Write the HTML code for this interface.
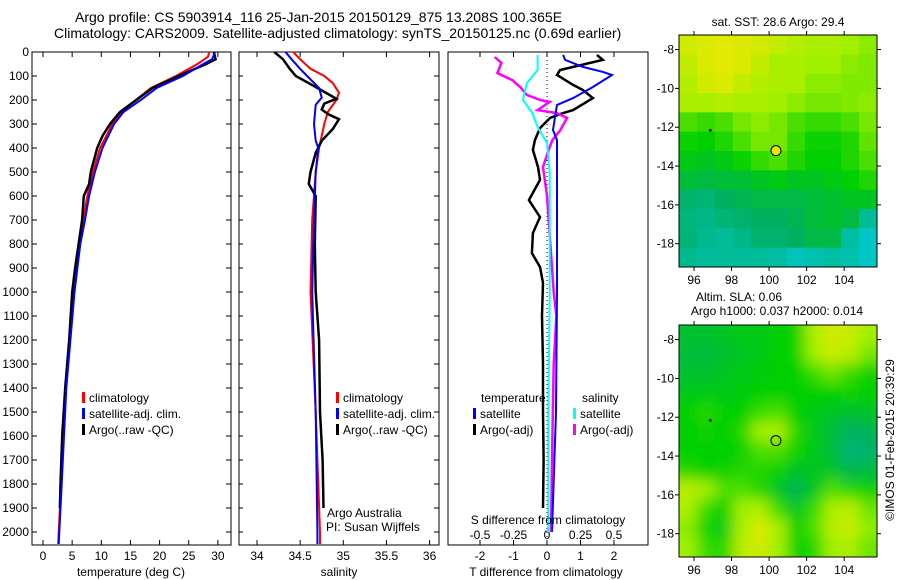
<!DOCTYPE html>
<html><head><meta charset="utf-8"><style>
body{margin:0;background:#fff;width:900px;height:580px;overflow:hidden}
svg{display:block;font-family:"Liberation Sans",sans-serif}
text{fill:#000}
</style></head><body>
<svg id="s" width="900" height="580">
<defs>
<filter id="blur" x="-5%" y="-5%" width="110%" height="110%"><feGaussianBlur stdDeviation="7"/></filter>
<clipPath id="clip2"><rect x="679" y="325" width="198" height="232"/></clipPath>
</defs>
<text x="75" y="22" font-size="14">Argo profile: CS 5903914_116 25-Jan-2015 20150129_875 13.208S 100.365E</text>
<text x="54" y="38" font-size="14">Climatology: CARS2009. Satellite-adjusted climatology: synTS_20150125.nc (0.69d earlier)</text>
</svg>
<script>
// ---- data ----
const depthTicks=[0,100,200,300,400,500,600,700,800,900,1000,1100,1200,1300,1400,1500,1600,1700,1800,1900,2000];
const tTicks=[0,5,10,15,20,25,30];
const sTicks=[34,34.5,35,35.5,36];
const tdTicks=[-2,-1,0,1,2];
const sdTicks=[-0.5,-0.25,0,0.25,0.5];
const climTdep=[0,20,50,100,150,200,250,300,400,500,600,700,800,900,1000,1200,1400,1600,1800,2000,2050];
const climT=[28.5,28.3,26.5,22.8,18.5,15.9,13.5,11.9,9.8,8.6,7.6,6.9,6.2,5.7,5.1,4.5,3.9,3.5,3.1,2.7,2.6];
const satTdep=[0,30,50,100,150,200,250,300,400,500,600,700,800,900,1000,1200,1400,1600,1800,2000,2050];
const satT=[29.5,29,27.5,24,19.5,16.8,13.8,12.2,10.2,8.9,7.9,7.2,6.4,5.9,5.4,4.7,4.0,3.6,3.2,2.8,2.7];
const argoTdep=[0,30,50,100,150,200,250,300,350,400,500,550,600,700,800,900,1000,1200,1400,1600,1800,1900];
const argoT=[29.3,29.6,28,23.2,18.8,16,13.2,11.5,10.2,9.3,8.2,7.9,7.0,6.7,6.1,5.5,5.0,4.5,3.8,3.3,3.0,2.9];
const climSdep=[0,30,70,100,130,170,200,250,300,400,500,700,1000,1500,2000,2050];
const climS=[34.42,34.5,34.62,34.78,34.88,34.95,34.92,34.82,34.78,34.72,34.68,34.64,34.62,34.68,34.73,34.73];
const satSdep=[0,30,70,100,150,190,220,300,370,400,500,700,1000,1500,2000,2050];
const satS=[34.33,34.4,34.5,34.58,34.72,34.75,34.68,34.66,34.68,34.71,34.68,34.66,34.64,34.68,34.7,34.7];
const argoSdep=[0,30,70,100,130,160,195,215,240,260,280,320,370,420,500,550,600,800,1000,1200,1500,1700,1900];
const argoS=[34.2,34.3,34.38,34.45,34.6,34.75,34.92,34.78,34.75,34.83,34.95,34.88,34.75,34.68,34.62,34.6,34.68,34.67,34.68,34.72,34.73,34.76,34.77];
const dTsatDep=[12,33,62,83,96,146,192,221,271,325,367,504,1000,1500,2000];
const dTsat=[0.48,0.54,1.07,1.67,1.94,1.37,0.78,0.3,0.24,0.18,0.3,0.3,0.3,0.27,0.15];
const dTargoDep=[12,33,75,96,137,158,192,242,254,275,317,367,408,479,533,617,688,754,838,896,962,1100,1300,1500,1700,1900];
const dTargo=[1.49,1.67,0.39,0.3,0.78,1.07,1.37,0.78,0.48,0.09,-0.21,-0.36,-0.42,-0.27,-0.21,-0.54,-0.21,-0.42,-0.45,-0.21,-0.12,-0.15,-0.12,-0.12,-0.1,-0.12];
const dSsatDep=[12,75,129,200,254,313,379,504,1000,1500,2000];
const dSsat=[-0.07,-0.07,-0.15,-0.18,-0.11,-0.07,0,0.02,0.02,0.01,0.01];
const dSargoDep=[21,46,88,117,146,179,200,208,242,254,275,325,367,396,479,600,1000,1100,1300,1600,2000];
const dSargo=[-0.39,-0.34,-0.37,-0.26,-0.2,-0.15,-0.05,0.02,-0.07,0.07,0.15,0.1,0.04,0.02,-0.03,0,0.05,0.07,0.05,0.04,0.03];
const lonTicks=[96,98,100,102,104];
const latTicks=[-8,-10,-12,-14,-16,-18];
const sstGrid=[
[.8,.82,.84,.82,.8,.77,.74,.72,.72,.7,.68],
[.77,.82,.84,.82,.77,.72,.72,.7,.7,.68,.67],
[.74,.8,.82,.77,.74,.72,.72,.68,.68,.67,.67],
[.72,.72,.74,.72,.72,.7,.68,.66,.66,.67,.68],
[.62,.6,.62,.66,.68,.66,.62,.6,.6,.62,.66],
[.56,.55,.58,.62,.66,.66,.6,.56,.56,.58,.64],
[.52,.5,.52,.56,.6,.62,.58,.55,.55,.58,.62],
[.46,.45,.46,.47,.5,.52,.5,.5,.52,.55,.58],
[.38,.36,.4,.42,.44,.44,.44,.46,.48,.5,.5],
[.35,.33,.36,.38,.4,.4,.42,.46,.48,.45,.3],
[.36,.32,.3,.33,.38,.38,.4,.44,.44,.28,.22],
[.32,.3,.3,.3,.3,.28,.24,.26,.28,.26,.22]];
const slaGrid=[
[.48,.48,.5,.52,.52,.55,.56,.72,.8,.78,.7],
[.46,.46,.48,.5,.52,.55,.56,.7,.78,.75,.66],
[.48,.48,.5,.52,.53,.55,.55,.6,.65,.6,.56],
[.52,.52,.52,.53,.55,.55,.55,.55,.55,.56,.55],
[.55,.58,.55,.55,.6,.62,.55,.52,.5,.48,.5],
[.55,.56,.55,.58,.7,.72,.58,.52,.46,.4,.42],
[.55,.55,.55,.56,.62,.62,.56,.52,.46,.35,.38],
[.58,.55,.56,.58,.58,.56,.5,.5,.5,.42,.45],
[.75,.7,.62,.62,.58,.5,.42,.5,.62,.58,.56],
[.72,.6,.55,.7,.72,.6,.5,.6,.72,.75,.65],
[.68,.56,.52,.72,.82,.72,.55,.62,.75,.78,.68],
[.7,.6,.58,.75,.8,.7,.55,.58,.7,.72,.65]];
const argoLon=100.365, argoLat=-13.208;

// ---- drawing ----
const NS='http://www.w3.org/2000/svg', S=document.getElementById('s');
function el(t,a,p){const e=document.createElementNS(NS,t);for(const k in a)e.setAttribute(k,a[k]);(p||S).appendChild(e);return e;}
function txt(x,y,s,a){const e=el('text',Object.assign({x:x,y:y,'font-size':12},a||{}));e.textContent=s;return e;}
const Y0=52,YB=545;
const yD=d=>Y0+d*0.24;
const xT=v=>43+v*5.83;
const xS=v=>257+(v-34)*86.3;
const xDT=v=>547+v*33.5;
const xDS=v=>547+v*134;
function line(deps,vals,xf,col,w,name,dash){
  const pts=deps.map((d,i)=>xf(vals[i]).toFixed(1)+','+yD(d).toFixed(1)).join(' ');
  const p=el('polyline',{points:pts,fill:'none',stroke:col,'stroke-width':w});
  if(dash)p.setAttribute('stroke-dasharray',dash);
  
  
}
function frame(x0,x1,name){
  const r=el('rect',{x:x0,y:Y0,width:x1-x0,height:YB-Y0,fill:'#fff',stroke:'#000','stroke-width':1});
  
  
}
function xticks(vals,xf,labelY,name){
  vals.forEach(v=>{const x=xf(v);
    el('line',{x1:x,x2:x,y1:YB,y2:YB-5,stroke:'#000'});el('line',{x1:x,x2:x,y1:Y0,y2:Y0+5,stroke:'#000'});
    const t=txt(x,labelY,String(v),{'text-anchor':'middle'});
    
    });
}
function legend(x,y,col,label){
  el('rect',{x:x,y:y-10,width:3,height:11,fill:col});
  const t=txt(x+7,y,label);
  
  
}
// panel 1
frame(32,231,'temperature-panel');
depthTicks.forEach(d=>{const y=yD(d);el('line',{x1:32,x2:37,y1:y,y2:y,stroke:'#000'});el('line',{x1:226,x2:231,y1:y,y2:y,stroke:'#000'});
  const t=txt(29,y+4,String(d),{'text-anchor':'end'});
  
  });
xticks(tTicks,xT,560,'temperature-tick-label');
line(climTdep,climT,xT,'#f00',2,'temperature-climatology');
line(argoTdep,argoT,xT,'#000',2.5,'temperature-argo');
line(satTdep,satT,xT,'#00f',2,'temperature-satellite');
legend(82,402,'#f00','climatology');legend(82,418,'#00f','satellite-adj. clim.');legend(82,434,'#000','Argo(..raw -QC)');
txt(131,576,'temperature (deg C)',{'text-anchor':'middle',});
// panel 2
frame(239,439,'salinity-panel');
depthTicks.forEach(d=>{const y=yD(d);el('line',{x1:239,x2:243,y1:y,y2:y,stroke:'#000'});el('line',{x1:434,x2:439,y1:y,y2:y,stroke:'#000'});});
xticks(sTicks,xS,560,'salinity-tick-label');
line(climSdep,climS,xS,'#f00',2,'salinity-climatology');
line(argoSdep,argoS,xS,'#000',2.5,'salinity-argo');
line(satSdep,satS,xS,'#00f',2,'salinity-satellite');
legend(336,402,'#f00','climatology');legend(336,418,'#00f','satellite-adj. clim.');legend(336,434,'#000','Argo(..raw -QC)');
txt(327,517,'Argo Australia');txt(326,531,'PI: Susan Wijffels');
txt(339,576,'salinity',{'text-anchor':'middle',});
// panel 3
frame(448,648,'difference-panel');
el('line',{x1:547,x2:547,y1:Y0,y2:YB,stroke:'#000','stroke-dasharray':'1,3'});
xticks(tdTicks,xDT,560,'t-diff-tick-label');
sdTicks.forEach(v=>{const t=txt(xDS(v),539,String(v),{'text-anchor':'middle'});
  
  });
line(dTargoDep,dTargo,xDT,'#000',2.5,'t-diff-argo');
line(dSargoDep,dSargo,xDS,'#f0f',2.5,'s-diff-argo');
line(dSsatDep,dSsat,xDS,'#0ff',2,'s-diff-satellite');
line(dTsatDep,dTsat,xDT,'#00f',2,'t-diff-satellite');
txt(481,402,'temperature');txt(582,402,'salinity');
legend(473,418,'#00f','satellite');legend(473,434,'#000','Argo(-adj)');
legend(573,418,'#0ff','satellite');legend(573,434,'#f0f','Argo(-adj)');
txt(548,524,'S difference from climatology',{'text-anchor':'middle'});
txt(546,576,'T difference from climatology',{'text-anchor':'middle',});
// maps
const stops=[[0,[0,144,255]],[0.2,[0,200,208]],[0.4,[0,176,96]],[0.55,[0,208,0]],[0.7,[160,240,0]],[0.85,[232,232,0]],[1,[240,192,0]]];
function cmap(v){for(let i=1;i<stops.length;i++){if(v<=stops[i][0]){const a=stops[i-1],b=stops[i],f=(v-a[0])/(b[0]-a[0]);
  return 'rgb('+a[1].map((c,k)=>Math.round(c+(b[1][k]-c)*f)).join(',')+')';}}return 'rgb(240,192,0)';}
function map(grid,top,name,isSst){
  const L=679,R=877,B=top+232,lonMin=95.2,lonMax=105.75,latTop=-7.25,latBot=-19.2;
  const xL=v=>L+(v-lonMin)/(lonMax-lonMin)*(R-L), yL=v=>top+(latTop-v)/(latTop-latBot)*(B-top);
  const rows=grid.length,cols=grid[0].length,cw=(R-L)/cols,ch=(B-top)/rows;
  let host=S;
  if(!isSst){host=el('g',{'clip-path':'url(#clip2)'});}
  const g=el('g',isSst?{}:{filter:'url(#blur)'},host);
  
  
  grid.forEach((r,i)=>r.forEach((v,j)=>{
    const x0=L+j*cw,y0=top+i*ch;
    let x=x0,y=y0,w=cw+0.5,h=ch+0.5;
    if(!isSst){if(j===0){x-=12;w+=12;}if(j===cols-1){w+=12;}if(i===0){y-=12;h+=12;}if(i===rows-1){h+=12;}}
    el('rect',{x:x,y:y,width:w,height:h,fill:cmap(v)},g);}));
  el('rect',{x:L,y:top,width:R-L,height:B-top,fill:'none',stroke:'#000'});
  lonTicks.forEach(v=>{const x=xL(v);el('line',{x1:x,x2:x,y1:top,y2:top-4,stroke:'#000'});el('line',{x1:x,x2:x,y1:B,y2:B+4,stroke:'#000'});
    const t=txt(x,B+17,String(v),{'text-anchor':'middle'});
    
    });
  latTicks.forEach(v=>{const y=yL(v);el('line',{x1:L,x2:L-4,y1:y,y2:y,stroke:'#000'});el('line',{x1:R,x2:R+4,y1:y,y2:y,stroke:'#000'});
    const t=txt(674,y+4,String(v),{'text-anchor':'end'});
    
    });
  const c=el('circle',{cx:xL(argoLon),cy:yL(argoLat),r:5,fill:isSst?'#e8e800':'none',stroke:'#000'});
  
  
  el('rect',{x:xL(96.85)-1,y:yL(-12.15)-1,width:2.5,height:2.5,fill:'#000'});
}
map(sstGrid,35,'sst-map',true);
map(slaGrid,325,'sla-map',false);
txt(778,26,'sat. SST: 28.6 Argo: 29.4',{'text-anchor':'middle'});
txt(739,301,'Altim. SLA: 0.06',{'text-anchor':'middle'});
txt(777,315,'Argo h1000: 0.037 h2000: 0.014',{'text-anchor':'middle'});
txt(0,0,'©IMOS 01-Feb-2015 20:39:29',{transform:'translate(894,440) rotate(-90)','text-anchor':'middle','font-size':12,});
</script>
</body></html>
